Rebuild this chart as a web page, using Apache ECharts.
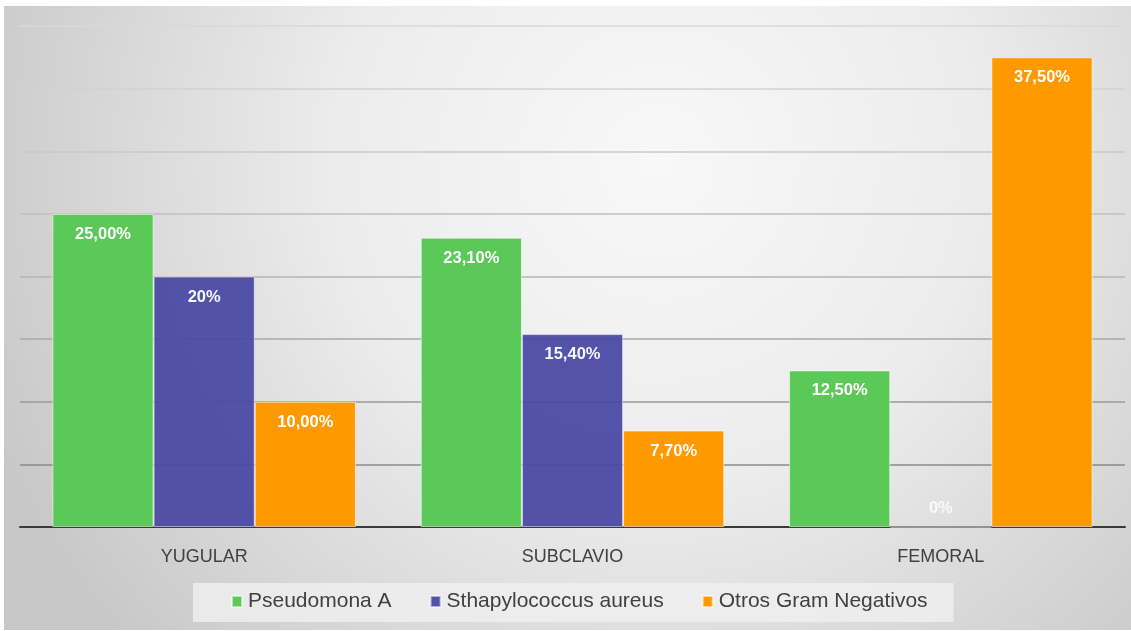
<!DOCTYPE html>
<html>
<head>
<meta charset="utf-8">
<script src="https://cdn.jsdelivr.net/npm/echarts@6/dist/echarts.min.js"></script>
<style>
html,body{margin:0;padding:0;background:#ffffff;width:1131px;height:631px;overflow:hidden;}
#chart{position:absolute;left:4px;top:6px;width:1127px;height:624px;}
</style>
</head>
<body>
<div id="chart"></div>
<script>
const categories = ['YUGULAR', 'SUBCLAVIO', 'FEMORAL'];
const seriesNames = ['Pseudomona A', 'Sthapylococcus aureus', 'Otros Gram Negativos'];
const pseudomona = [25.0, 23.1, 12.5];
const staphylo = [20.0, 15.4, 0];
const otros = [10.0, 7.7, 37.5];
const pseudomonaLabels = ['25,00%', '23,10%', '12,50%'];
const staphyloLabels = ['20%', '15,40%', '0%'];
const otrosLabels = ['10,00%', '7,70%', '37,50%'];
const colors = ['#5bc957', '#4a4aa4', '#ff9900'];

const FONT = "'Liberation Sans', Arial, sans-serif";

function makeData(values, labels) {
  return values.map(function (v, i) {
    const item = { value: v, labelText: labels[i] };
    if (v === 0) {
      item.label = { position: 'top', distance: 10, color: 'rgba(255,255,255,0.85)' };
    }
    return item;
  });
}

function makeSeries(name, values, labels, color, opacity) {
  return {
    name: name,
    type: 'bar',
    barGap: '0%',
    barCategoryGap: '17.6%',
    data: makeData(values, labels),
    itemStyle: { color: color, opacity: opacity, borderColor: 'rgba(255,255,255,0.55)', borderWidth: 1 },
    label: {
      show: true,
      position: 'insideTop',
      distance: 12,
      color: '#ffffff',
      fontFamily: FONT,
      fontWeight: 'bold',
      fontSize: 16.5,
      formatter: function (p) { return p.data.labelText; }
    }
  };
}

const chart = echarts.init(document.getElementById('chart'), null, { renderer: 'canvas' });
chart.setOption({
  animation: false,
  backgroundColor: {
    type: 'radial', x: 0.58, y: 0.25, r: 1.15,
    colorStops: [
      { offset: 0, color: '#f8f8f8' },
      { offset: 0.45, color: '#ececec' },
      { offset: 1, color: '#c8c8c8' }
    ]
  },
  color: colors,
  grid: { left: 16, right: 6, top: 20, bottom: 103, containLabel: false },
  legend: {
    data: seriesNames,
    left: 189,
    top: 577,
    padding: [8, 26, 10, 38],
    backgroundColor: 'rgba(240,240,240,0.8)',
    itemWidth: 10,
    itemHeight: 11,
    itemGap: 38,
    icon: 'rect',
    textStyle: { color: '#404040', fontSize: 21, fontFamily: FONT, padding: [0, 0, 0, 1] }
  },
  xAxis: {
    type: 'category',
    data: categories,
    axisLine: { lineStyle: { color: '#3a3a3a', width: 2 } },
    axisTick: { show: false },
    axisLabel: { color: '#404040', fontSize: 18, fontFamily: FONT, margin: 21 }
  },
  yAxis: {
    type: 'value',
    min: 0,
    max: 40,
    interval: 5,
    axisLabel: { show: false },
    axisLine: { show: false },
    axisTick: { show: false },
    splitLine: {
      lineStyle: {
        width: 1.5,
        color: ['#888888', '#8a8a8a', '#9a9a9a', '#a8a8a8', '#b4b4b4', '#bfbfbf', '#c9c9c9', '#d2d2d2', '#d8d8d8']
      }
    }
  },
  series: [
    makeSeries(seriesNames[0], pseudomona, pseudomonaLabels, colors[0], 1),
    makeSeries(seriesNames[1], staphylo, staphyloLabels, colors[1], 0.95),
    makeSeries(seriesNames[2], otros, otrosLabels, colors[2], 1)
  ]
});
</script>
</body>
</html>
